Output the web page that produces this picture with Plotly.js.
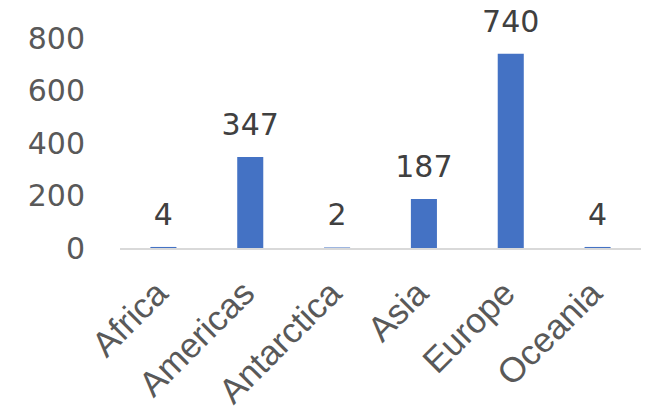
<!DOCTYPE html>
<html>
<head>
<meta charset="utf-8">
<script src="https://cdn.plot.ly/plotly-3.0.1.min.js"></script>
<style>html,body{margin:0;padding:0;background:#fff;}#chart{width:651px;height:416px;}</style>
</head>
<body>
<div id="chart"></div>
<script>
const categories = ["Africa", "Americas", "Antarctica", "Asia", "Europe", "Oceania"];
const values = [4, 347, 2, 187, 740, 4];
const yTicks = [0, 200, 400, 600, 800];

const numFont = 'DejaVu Sans, Verdana, sans-serif';
const txtFont = 'Liberation Sans, Arial, sans-serif';

const bars = {
  type: 'bar',
  x: categories,
  y: values,
  marker: {color: '#4472C4'},
  hoverinfo: 'none'
};

const labels = {
  type: 'scatter',
  mode: 'markers+text',
  x: categories,
  y: values,
  text: values.map(String),
  textposition: 'top center',
  marker: {size: 22, opacity: 0, color: '#ffffff'},
  cliponaxis: false,
  textfont: {family: numFont, size: 30, color: '#404040'},
  hoverinfo: 'none'
};

const layout = {
  width: 651, height: 416,
  margin: {l: 120, r: 10, t: 38, b: 168},
  paper_bgcolor: '#ffffff', plot_bgcolor: '#ffffff',
  bargap: 0.7,
  showlegend: false,
  font: {family: txtFont, color: '#595959'},
  xaxis: {
    type: 'category',
    showline: true, linecolor: '#d9d9d9', linewidth: 1.5,
    showgrid: false, zeroline: false,
    tickangle: -45,
    tickfont: {family: txtFont, size: 35, color: '#595959'},
    ticks: '', ticklabelstandoff: 9, ticklabelshift: -6
  },
  yaxis: {
    range: [0, 800],
    tickvals: yTicks,
    ticktext: yTicks.map(String),
    showgrid: false, zeroline: false, showline: false,
    tickfont: {family: numFont, size: 30, color: '#595959'},
    ticks: '', ticklabelstandoff: 34
  }
};

Plotly.newPlot('chart', [bars, labels], layout, {displayModeBar: false, staticPlot: true});
</script>
</body>
</html>
